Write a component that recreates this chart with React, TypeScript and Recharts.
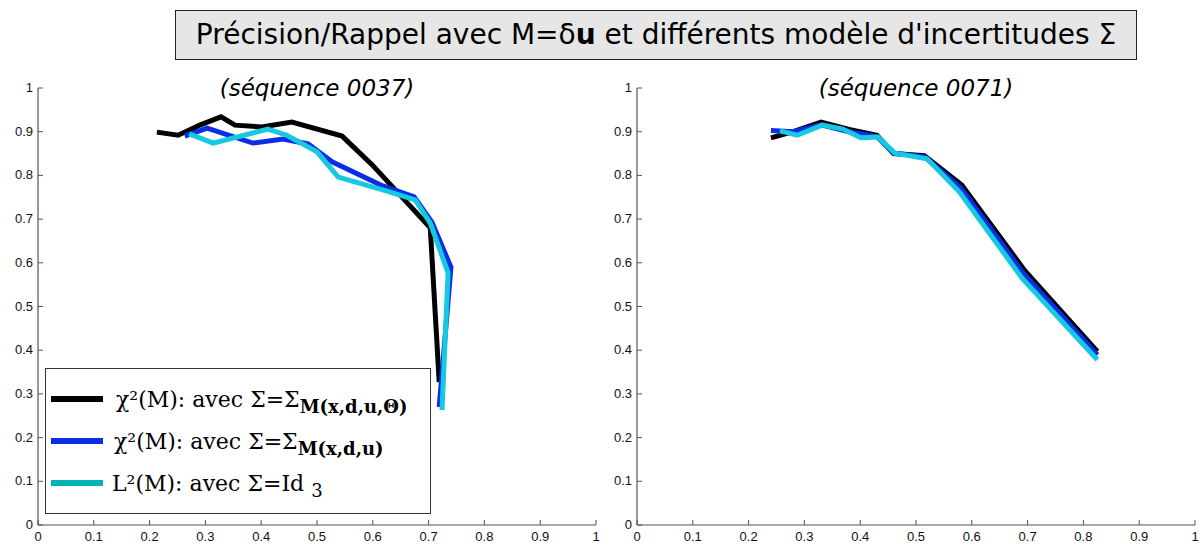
import React from 'react';
import { LineChart, Line, XAxis, YAxis } from 'recharts';

const xTicks = [0, 0.1, 0.2, 0.3, 0.4, 0.5, 0.6, 0.7, 0.8, 0.9, 1];
const yTicks = [0, 0.1, 0.2, 0.3, 0.4, 0.5, 0.6, 0.7, 0.8, 0.9, 1];

// Sequence 0037 (left)
const seq37Black = [
  { x: 0.213, y: 0.899 }, { x: 0.251, y: 0.892 }, { x: 0.29, y: 0.915 }, { x: 0.328, y: 0.934 },
  { x: 0.353, y: 0.915 }, { x: 0.401, y: 0.911 }, { x: 0.455, y: 0.922 }, { x: 0.545, y: 0.89 },
  { x: 0.599, y: 0.824 }, { x: 0.703, y: 0.68 }, { x: 0.719, y: 0.327 },
];
const seq37Blue = [
  { x: 0.263, y: 0.89 }, { x: 0.303, y: 0.908 }, { x: 0.385, y: 0.874 }, { x: 0.439, y: 0.883 },
  { x: 0.484, y: 0.872 }, { x: 0.527, y: 0.831 }, { x: 0.618, y: 0.776 }, { x: 0.674, y: 0.751 },
  { x: 0.706, y: 0.693 }, { x: 0.74, y: 0.59 }, { x: 0.719, y: 0.27 },
];
const seq37Cyan = [
  { x: 0.271, y: 0.895 }, { x: 0.314, y: 0.874 }, { x: 0.412, y: 0.906 }, { x: 0.446, y: 0.892 },
  { x: 0.5, y: 0.854 }, { x: 0.538, y: 0.796 }, { x: 0.618, y: 0.767 }, { x: 0.676, y: 0.744 },
  { x: 0.703, y: 0.691 }, { x: 0.735, y: 0.577 }, { x: 0.724, y: 0.263 },
];

// Sequence 0071 (right)
const seq71Black = [
  { x: 0.24, y: 0.886 }, { x: 0.28, y: 0.9 }, { x: 0.33, y: 0.922 }, { x: 0.38, y: 0.905 },
  { x: 0.43, y: 0.892 }, { x: 0.46, y: 0.85 }, { x: 0.515, y: 0.845 }, { x: 0.582, y: 0.778 },
  { x: 0.695, y: 0.582 }, { x: 0.825, y: 0.397 },
];
const seq71Blue = [
  { x: 0.24, y: 0.903 }, { x: 0.28, y: 0.9 }, { x: 0.33, y: 0.916 }, { x: 0.38, y: 0.9 },
  { x: 0.43, y: 0.889 }, { x: 0.46, y: 0.851 }, { x: 0.515, y: 0.843 }, { x: 0.58, y: 0.772 },
  { x: 0.693, y: 0.575 }, { x: 0.825, y: 0.389 },
];
const seq71Cyan = [
  { x: 0.256, y: 0.902 }, { x: 0.287, y: 0.892 }, { x: 0.332, y: 0.915 }, { x: 0.369, y: 0.906 },
  { x: 0.401, y: 0.886 }, { x: 0.432, y: 0.888 }, { x: 0.462, y: 0.851 }, { x: 0.52, y: 0.838 },
  { x: 0.578, y: 0.762 }, { x: 0.69, y: 0.565 }, { x: 0.825, y: 0.378 },
];

const BLACK = '#000000';
const BLUE = '#0a2ee6';
const CYAN = '#16c8e0';
const AXIS = '#555555';
const TICKFONT = '"Liberation Sans", Arial, sans-serif';

const fmt = (v: number) => (v === 0 ? '0' : v === 1 ? '1' : String(v));

const XTick = (props: any) => {
  const { x, payload } = props;
  const y = 525;
  return (
    <g>
      <line x1={x} y1={y} x2={x} y2={y - 5} stroke={AXIS} strokeWidth={1} />
      <text x={x} y={y + 16} textAnchor="middle" fontSize={13} fontFamily={TICKFONT} fill="#111">
        {fmt(payload.value)}
      </text>
    </g>
  );
};

const makeYTick = (axisX: number) => (props: any) => {
  const { y, payload } = props;
  const x = axisX;
  return (
    <g>
      <line x1={x} y1={y} x2={x + 5} y2={y} stroke={AXIS} strokeWidth={1} />
      <text x={x - 5} y={y + 4} textAnchor="end" fontSize={13} fontFamily={TICKFONT} fill="#111">
        {fmt(payload.value)}
      </text>
    </g>
  );
};

const Panel = ({ black, blue, cyan, marginLeft }: any) => {
  const YT = makeYTick(marginLeft);
  return (
    <LineChart
      width={600}
      height={547}
      margin={{ top: 88, left: marginLeft - 20, right: 600 - marginLeft - 558, bottom: 2 }}
    >
      <XAxis
        type="number"
        dataKey="x"
        domain={[0, 1]}
        ticks={xTicks}
        allowDataOverflow
        height={20}
        tickSize={0}
        tickMargin={0}
        tickLine={false}
        axisLine={{ stroke: AXIS, strokeWidth: 1.2 }}
        tick={(p: any) => <XTick {...p} />}
        interval={0}
      />
      <YAxis
        type="number"
        domain={[0, 1]}
        ticks={yTicks}
        allowDataOverflow
        width={20}
        tickSize={0}
        tickMargin={0}
        tickLine={false}
        axisLine={{ stroke: AXIS, strokeWidth: 1.2 }}
        tick={(p: any) => <YT {...p} />}
        interval={0}
      />
      <Line data={black} dataKey="y" type="linear" stroke={BLACK} strokeWidth={5} dot={false} isAnimationActive={false} strokeLinejoin="miter" />
      <Line data={blue} dataKey="y" type="linear" stroke={BLUE} strokeWidth={5} dot={false} isAnimationActive={false} strokeLinejoin="miter" />
      <Line data={cyan} dataKey="y" type="linear" stroke={CYAN} strokeWidth={5} dot={false} isAnimationActive={false} strokeLinejoin="miter" />
    </LineChart>
  );
};

const SERIF = '"DejaVu Serif", "Liberation Serif", serif';

const LegendRow = ({ color, top, main, sub, subBold, left }: any) => (
  <div style={{ position: 'absolute', left: 0, top, height: 30, width: 385 }}>
    <div style={{ position: 'absolute', left: 5, top: 13, width: 52, height: 6, background: color }} />
    <div
      style={{
        position: 'absolute',
        left,
        top: 2,
        fontFamily: SERIF,
        fontSize: 22,
        color: '#000',
        whiteSpace: 'nowrap',
        lineHeight: '30px',
      }}
    >
      {main}
      <span style={{ fontSize: 18, fontWeight: subBold ? 700 : 400, position: 'relative', top: 6 }}>{sub}</span>
    </div>
  </div>
);

export default function App() {
  return (
    <div style={{ position: 'absolute', left: 0, top: 0, width: 1203, height: 547, background: '#fff', overflow: 'hidden' }}>
      <div style={{ position: 'absolute', left: 0, top: 0 }}>
        <Panel black={seq37Black} blue={seq37Blue} cyan={seq37Cyan} marginLeft={38} />
      </div>
      <div style={{ position: 'absolute', left: 600, top: 0 }}>
        <Panel black={seq71Black} blue={seq71Blue} cyan={seq71Cyan} marginLeft={37} />
      </div>

      {/* Title */}
      <div
        style={{
          position: 'absolute',
          left: 175,
          top: 10,
          width: 960,
          height: 48,
          background: '#e6e6e6',
          border: '1px solid #222',
          fontFamily: '"DejaVu Sans", sans-serif',
          fontSize: 28,
          lineHeight: '48px',
          textAlign: 'center',
          color: '#000',
          whiteSpace: 'nowrap',
        }}
      >
        Précision/Rappel avec M=δ<b>u</b> et différents modèle d'incertitudes Σ
      </div>

      {/* Subtitles */}
      <div style={{ position: 'absolute', left: 117, top: 74, width: 400, lineHeight: '28px', textAlign: 'center', fontFamily: '"DejaVu Sans", sans-serif', fontStyle: 'italic', fontSize: 23, color: '#000' }}>
        (séquence 0037)
      </div>
      <div style={{ position: 'absolute', left: 716, top: 74, width: 400, lineHeight: '28px', textAlign: 'center', fontFamily: '"DejaVu Sans", sans-serif', fontStyle: 'italic', fontSize: 23, color: '#000' }}>
        (séquence 0071)
      </div>

      {/* Legend */}
      <div style={{ position: 'absolute', left: 45, top: 368, width: 384, height: 144, background: '#fff', border: '1px solid #333' }}>
        <LegendRow color={BLACK} top={14} left={70} main="χ²(M): avec Σ=Σ" sub="M(x,d,u,Θ)" subBold />
        <LegendRow color={BLUE} top={56} left={68} main="χ²(M): avec Σ=Σ" sub="M(x,d,u)" subBold />
        <LegendRow color="#00b4b4" top={98} left={66} main="L²(M): avec Σ=Id " sub="3" />
      </div>
    </div>
  );
}
